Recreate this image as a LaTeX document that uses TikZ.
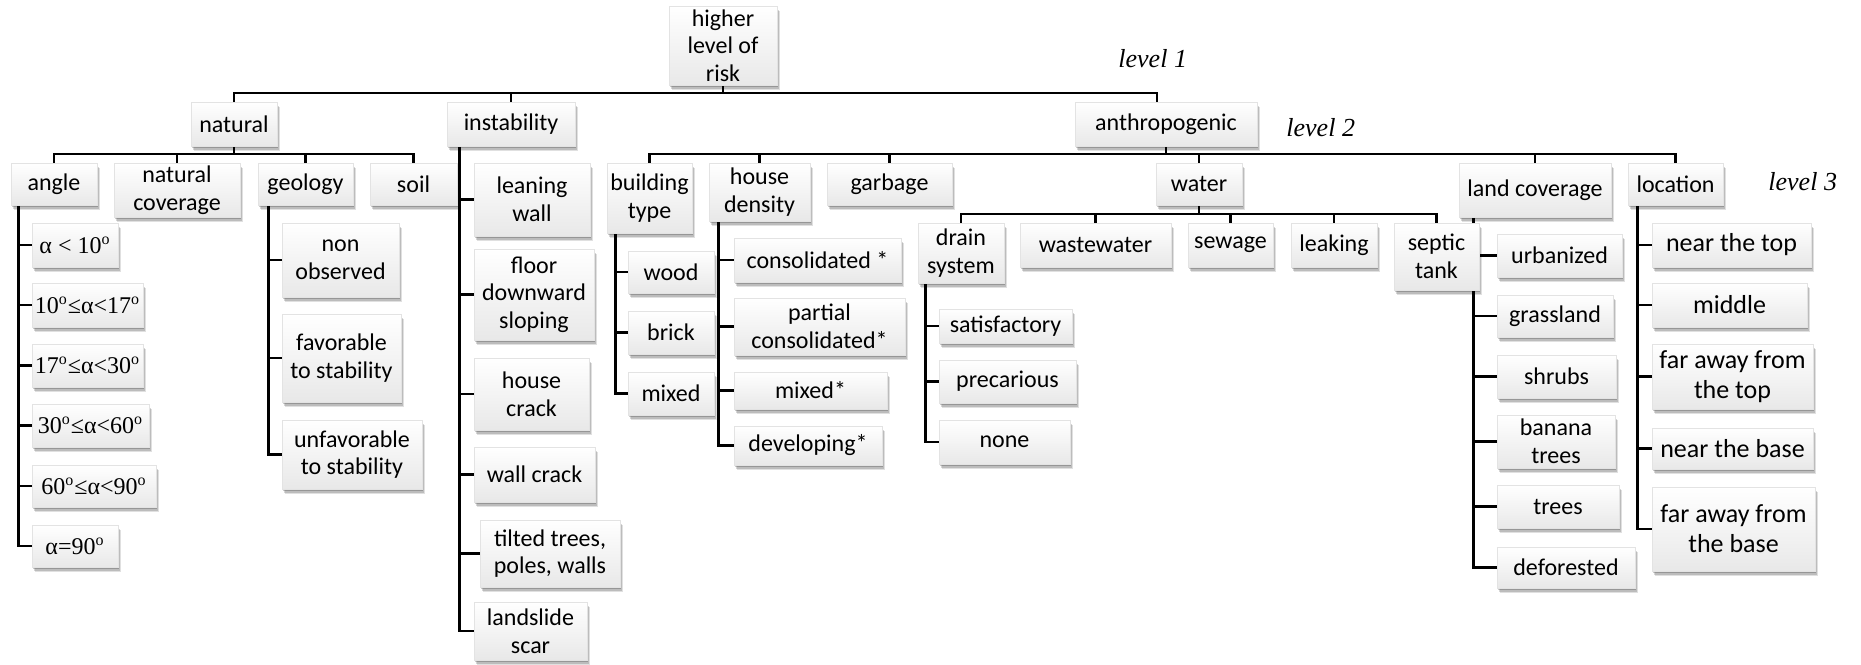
\documentclass[tikz,border=0pt]{standalone}
\usepackage{fontspec}
\setmainfont{Carlito}
\newfontfamily\tms{Liberation Serif}
\usetikzlibrary{shadows,backgrounds}
\tikzset{
  box/.style={rectangle, inner sep=0pt, align=center,
    top color=white, bottom color=gray!18, draw=gray!22, line width=0.3pt,
    font=\fontsize{12}{13.8}\selectfont,
    drop shadow={shadow xshift=1.7pt, shadow yshift=-2.4pt, opacity=0.12, fill=black},
    drop shadow={shadow xshift=1.2pt, shadow yshift=-1.8pt, opacity=0.16, fill=black},
    drop shadow={shadow xshift=0.7pt, shadow yshift=-1.1pt, opacity=0.2, fill=black}},
  big/.style={font=\fontsize{13}{15}\selectfont},
  conn/.style={line width=1.45pt, black},
  lvl/.style={font=\tms\itshape\fontsize{13}{15}\selectfont, anchor=base west, inner sep=0pt}
}
\newcommand{\bx}[7][]{\node[box,#1,minimum width={(#5-#3)*0.5pt},minimum height={(#6-#4)*0.5pt}] (#2) at ({(#3+#5)/2},{(#4+#6)/2}) {#7};}
\begin{document}
\begin{tikzpicture}[x=0.5pt,y=-0.5pt]
\useasboundingbox (0,0) rectangle (1861,664);
% level 0/1
\bx{nTop}{669}{6}{777}{85}{higher\\level of\\risk}
\bx{nNat}{191}{102}{277}{146}{natural}
\bx{nInst}{447}{102}{575}{146}{instability}
\bx{nAnth}{1075}{102}{1257}{146}{anthropogenic}
% natural
\bx{nAngle}{11}{163}{97}{205}{angle}
\bx{nNatcov}{114}{163}{240}{217}{natural\\coverage}
\bx{nGeol}{258}{163}{353}{205}{geology}
\bx{nSoil}{370}{163}{457}{205}{soil}
\bx{nA1}{32}{223}{118}{267}{\tms α < 10\textsuperscript{o}}
\bx{nA2}{32}{283}{143}{327}{\tms 10\textsuperscript{o}≤α<17\textsuperscript{o}}
\bx{nA3}{32}{344}{143}{387}{\tms 17\textsuperscript{o}≤α<30\textsuperscript{o}}
\bx{nA4}{32}{404}{149}{447}{\tms 30\textsuperscript{o}≤α<60\textsuperscript{o}}
\bx{nA5}{32}{465}{156}{507}{\tms 60\textsuperscript{o}≤α<90\textsuperscript{o}}
\bx{nA6}{32}{525}{118}{567}{\tms α=90\textsuperscript{o}}
\bx{nG1}{282}{223}{399}{297}{non\\observed}
\bx{nG2}{282}{314}{401}{402}{favorable\\to stability}
\bx{nG3}{282}{420}{422}{489}{unfavorable\\to stability}
% instability
\bx{nI1}{474}{163}{590}{236}{leaning\\wall}
\bx{nI2}{474}{249}{594}{340}{floor\\downward\\sloping}
\bx{nI3}{474}{358}{589}{430}{house\\crack}
\bx{nI4}{474}{447}{595}{502}{wall crack}
\bx{nI5}{480}{520}{620}{587}{tilted trees,\\poles, walls}
\bx{nI6}{474}{602}{587}{660}{landslide\\scar}
% anthropogenic
\bx{nBtype}{607}{163}{692}{233}{building\\type}
\bx{nHdens}{709}{163}{810}{221}{house\\density}
\bx{nGarb}{827}{163}{952}{205}{garbage}
\bx{nWater}{1156}{163}{1242}{205}{water}
\bx{nLand}{1459}{163}{1611}{217}{land coverage}
\bx{nLoc}{1628}{163}{1723}{205}{location}
\bx{nB1}{628}{251}{714}{293}{wood}
\bx{nB2}{628}{311}{714}{354}{brick}
\bx{nB3}{628}{372}{714}{415}{mixed}
\bx{nH1}{734}{238}{901}{282}{consolidated *}
\bx{nH2}{734}{298}{905}{355}{partial\\consolidated*}
\bx{nH3}{734}{372}{887}{409}{mixed*}
\bx{nH4}{734}{426}{882}{465}{developing*}
\bx{nDrain}{918}{223}{1004}{283}{drain\\system}
\bx{nWaste}{1020}{223}{1171}{267}{wastewater}
\bx{nSew}{1188}{223}{1273}{267}{sewage}
\bx{nLeak}{1291}{223}{1377}{267}{leaking}
\bx{nSeptic}{1394}{223}{1479}{290}{septic\\tank}
\bx{nD1}{939}{309}{1072}{343}{satisfactory}
\bx{nD2}{939}{360}{1076}{403}{precarious}
\bx{nD3}{939}{420}{1070}{464}{none}
\bx{nL1}{1497}{234}{1622}{277}{urbanized}
\bx{nL2}{1497}{295}{1613}{337}{grassland}
\bx{nL3}{1497}{355}{1616}{398}{shrubs}
\bx{nL4}{1497}{415}{1615}{468}{banana\\trees}
\bx{nL5}{1497}{485}{1619}{528}{trees}
\bx{nL6}{1497}{547}{1635}{588}{deforested}
\bx[big]{nO1}{1652}{223}{1811}{267}{near the top}
\bx[big]{nO2}{1652}{283}{1807}{327}{middle}
\bx[big]{nO3}{1652}{344}{1813}{409}{far away from\\the top}
\bx[big]{nO4}{1652}{428}{1813}{469}{near the base}
\bx[big]{nO5}{1652}{487}{1815}{571}{far away from\\the base}
% level labels
\node[lvl] (lv1) at (1118,67) {level 1};
\node[lvl] (lv2) at (1286,136) {level 2};
\node[lvl] (lv3) at (1768,190) {level 3};
% connectors
\begin{pgfonlayer}{background}
\coordinate (busA) at (0,93);
\coordinate (busB) at (0,154);
\coordinate (busW) at (0,214);
\coordinate (anthTop) at ([xshift=-4.5pt]nAnth.north);
\draw[conn] (nTop.south) -- (nTop.south |- busA);
\draw[conn] (nNat.north) |- (anthTop |- busA) -- (anthTop);
\draw[conn] (nInst.north) -- (nInst.north |- busA);
% natural bus
\draw[conn] (nNat.south) -- (nNat.south |- busB);
\draw[conn] (nAngle.north) |- (nSoil.north |- busB) -- (nSoil.north);
\draw[conn] (nNatcov.north) -- (nNatcov.north |- busB);
\draw[conn] (nGeol.north) -- (nGeol.north |- busB);
% anthropogenic bus
\draw[conn] (nAnth.south) -- (nAnth.south |- busB);
\draw[conn] (nBtype.north) |- (nLoc.north |- busB) -- (nLoc.north);
\draw[conn] (nHdens.north) -- (nHdens.north |- busB);
\draw[conn] (nGarb.north) -- (nGarb.north |- busB);
\draw[conn] (nWater.north) -- (nWater.north |- busB);
\draw[conn] (nLand.north) -- (nLand.north |- busB);
% water bus
\draw[conn] (nWater.south) -- (nWater.south |- busW);
\draw[conn] (nDrain.north) |- (nSeptic.north |- busW) -- (nSeptic.north);
\draw[conn] (nWaste.north) -- (nWaste.north |- busW);
\draw[conn] (nSew.north) -- (nSew.north |- busW);
\draw[conn] (nLeak.north) -- (nLeak.north |- busW);
% vertical trees
\coordinate (vAngle) at ([xshift=4pt]nAngle.south west);
\foreach \c in {nA1,nA2,nA3,nA4,nA5,nA6} \draw[conn] (vAngle) |- (\c.west);
\coordinate (vGeol) at ([xshift=5.5pt]nGeol.south west);
\foreach \c in {nG1,nG2,nG3} \draw[conn] (vGeol) |- (\c.west);
\coordinate (vInst) at ([xshift=6.5pt]nInst.south west);
\foreach \c in {nI1,nI2,nI3,nI4,nI5,nI6} \draw[conn] (vInst) |- (\c.west);
\coordinate (vBtype) at ([xshift=4.5pt]nBtype.south west);
\foreach \c in {nB1,nB2,nB3} \draw[conn] (vBtype) |- (\c.west);
\coordinate (vHdens) at ([xshift=5pt]nHdens.south west);
\foreach \c in {nH1,nH2,nH3,nH4} \draw[conn] (vHdens) |- (\c.west);
\coordinate (vDrain) at ([xshift=4pt]nDrain.south west);
\foreach \c in {nD1,nD2,nD3} \draw[conn] (vDrain) |- (\c.west);
\coordinate (vLand) at ([xshift=7.5pt]nLand.south west);
\foreach \c in {nL1,nL2,nL3,nL4,nL5,nL6} \draw[conn] (vLand) |- (\c.west);
\coordinate (vLoc) at ([xshift=5pt]nLoc.south west);
\foreach \c in {nO1,nO2,nO3,nO4,nO5} \draw[conn] (vLoc) |- (\c.west);
\end{pgfonlayer}
\end{tikzpicture}
\end{document}
